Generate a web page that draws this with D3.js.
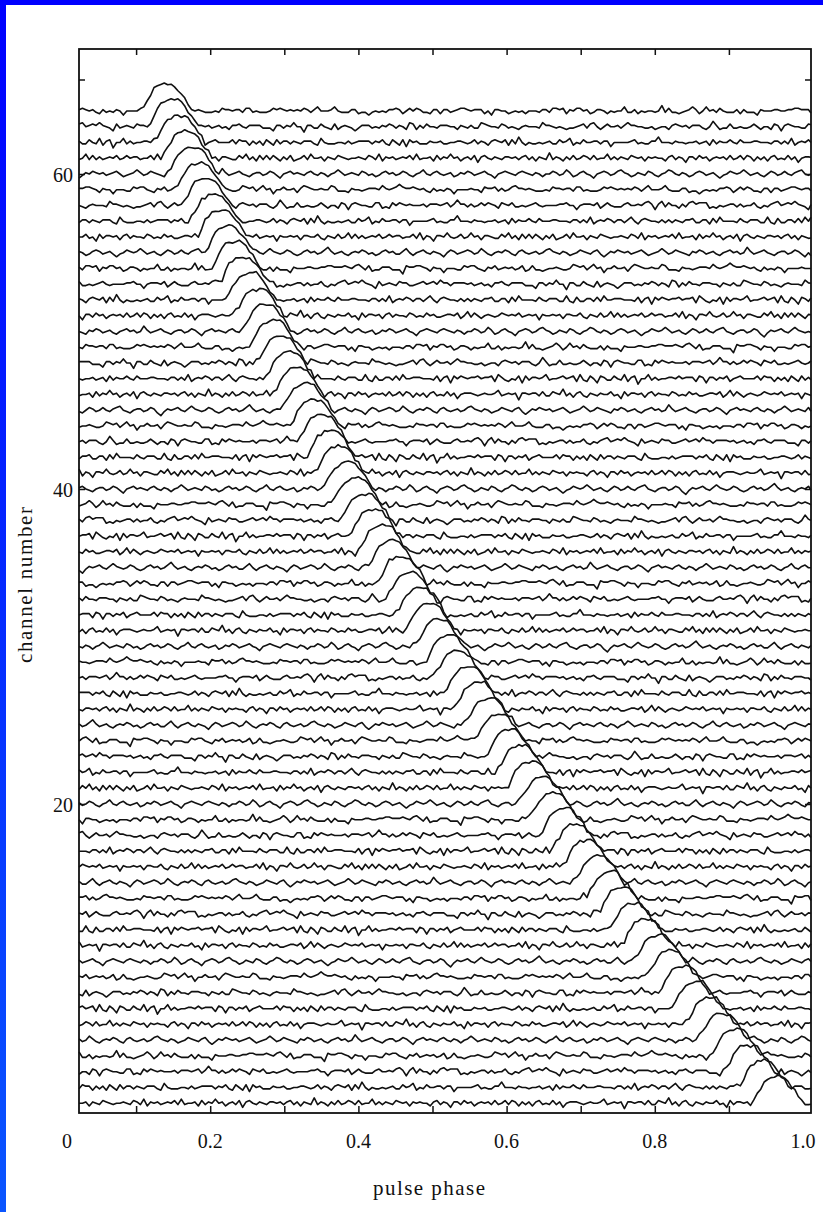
<!DOCTYPE html>
<html>
<head>
<meta charset="utf-8">
<script src="https://cdn.jsdelivr.net/npm/d3@7"></script>
<style>
body { margin: 0; background: #fff; }
svg { display: block; }
</style>
</head>
<body>
<div id="chart"></div>
<script>
// phase at which each channel's pulse is back on its baseline, channel 1 .. 64
var pulseEnd = [
	1.000, 0.981, 0.962, 0.944, 0.926, 0.909, 0.891, 0.874, 0.857, 0.840,
	0.823, 0.807, 0.791, 0.775, 0.759, 0.743, 0.728, 0.713, 0.698, 0.683,
	0.668, 0.654, 0.639, 0.625, 0.611, 0.597, 0.584, 0.570, 0.557, 0.544,
	0.531, 0.518, 0.505, 0.493, 0.480, 0.468, 0.456, 0.444, 0.432, 0.420,
	0.409, 0.397, 0.386, 0.375, 0.364, 0.353, 0.342, 0.331, 0.321, 0.310,
	0.300, 0.289, 0.279, 0.269, 0.260, 0.250, 0.240, 0.230, 0.221, 0.211,
	0.202, 0.193, 0.184, 0.175
];

// shape of the pulse, phase offset from its end and height in channel units
var profileOffset = [-0.072, -0.066, -0.061, -0.056, -0.051, -0.045, -0.038, -0.031, -0.024, -0.018, -0.012, -0.006, 0];
var profileHeight = [0, 0.15, 0.55, 1.05, 1.40, 1.60, 1.70, 1.70, 1.62, 1.25, 0.82, 0.40, 0];

// receiver noise, in pixels
var noise = [
	0,2,1,-1,0,3,1,-2,-1,1,2,0,-1,-3,0,1,2,1,-1,0,
	2,3,1,0,-2,-1,1,0,-1,2,1,-1,-2,0,1,3,2,0,-1,1,
	0,-2,-1,1,2,1,-1,0,1,-1,-3,-1,0,2,1,0,1,3,1,-1,
	0,1,-1,-2,0,2,1,-1,0,2,0,-1,1,2,3,0,-1,-2,0,1,
	1,-1,0,2,1,-2,-4,-1,1,0,1,2,0,-1,1,3,1,0,-1,0,
	2,1,-1,-2,-1,1,2,0,1,-1,0,2,4,1,-1,0,1,-1,-2,0,
	1,0,2,1,-1,0,-2,-1,1,2,0,1,-1,-1,1,3,0,-2,0,1,
	2,0,-1,1,0,-1,-3,0,2,1,-1,0,1,2,1,-1,0,3,1,-1,
	-2,0,1,0,2,1,-1,-2,1,2,0,-1,0,1,-1,0,2,3,1,0,
	-1,1,0,-2,-1,0,2,1,0,-1,1,2,-1,-3,-1,1,0,2,1,0,
	1,-1,0,1,2,0,-2,-1,0,1,3,1,-1,0,2,1,0,-1,-2,1,
	0,2,1,-1,0,1,-1,-2,0,1,2,0,1,-1,0,4,1,-1,0,1,
	2,0,-1,-2,0,1,1,-1,0,2,1,-1,-3,0,1,2,0,1,0,-1,
	1,2,0,-1,1,0,-2,0,1,3,1,-1,0,1,0,-1,2,1,-1,0,
	-2,-1,1,2,0,1,-1,0,2,1,-1,-2,0,1,3,0,-1,1,2,0,
	-1,0,1,-2,-1,1,0,2,1,-1,0,1,2,0,-1,-3,0,1,2,1,
	0,-1,1,2,1,0,-1,1,0,-2,0
];

var xLabelValues = [0, 0.2, 0.4, 0.6, 0.8, 1.0];
var xLabelText = ["0", "0.2", "0.4", "0.6", "0.8", "1.0"];
var xTickValues = [0.1, 0.2, 0.3, 0.4, 0.5, 0.6, 0.7, 0.8, 0.9];
var yLabelValues = [20, 40, 60];
var yTickValues = [20, 40, 60, 66];

var width = 823, height = 1212;
var frame = {left: 79, right: 811, top: 49, bottom: 1113};
var phaseStart = 0.023, phaseStop = 1.011, binWidth = 0.0046;

var svg = d3.select("#chart").append("svg")
	.attr("width", width)
	.attr("height", height);

// blue border of the slide
var grad = svg.append("defs").append("linearGradient")
	.attr("id", "side").attr("x1", 0).attr("y1", 0).attr("x2", 0).attr("y2", 1);
grad.append("stop").attr("offset", "0").attr("stop-color", "#0000ff");
grad.append("stop").attr("offset", "1").attr("stop-color", "#0a55ff");
svg.append("rect").attr("x", 0).attr("y", 0).attr("width", width).attr("height", 5).attr("fill", "#0000ff");
svg.append("rect").attr("x", 0).attr("y", 0).attr("width", 6).attr("height", height).attr("fill", "url(#side)");

var x = d3.scaleLinear().domain([0, 1]).range([62, 803]);
var y = d3.scaleLinear().domain([0, 64]).range([1119, 111]);
var pulse = d3.scaleLinear().domain(profileOffset).range(profileHeight).clamp(true);

// one trace per channel
var bins = d3.range(Math.floor((phaseStop - phaseStart) / binWidth) + 1);
var line = d3.line()
	.x(function(d) { return Math.min(x(d.phase), frame.right); })
	.y(function(d) { return d.y; });

var traces = pulseEnd.map(function(end, i) {
	var ch = i + 1;
	var stride = 1 + (ch % 5);
	var pts = bins.map(function(b) {
		var phase = phaseStart + b * binWidth;
		var h = pulse(phase - end);
		var n = noise[(ch * 97 + b * stride) % noise.length];
		return {phase: phase, y: y(ch + h) - n * 1.35 * (1 - 0.35 * Math.min(h, 1.6))};
	});
	pts.push({phase: phaseStop, y: y(ch) - noise[(ch * 31) % noise.length]});
	return pts;
});

svg.append("g")
	.selectAll("path")
	.data(traces)
	.enter()
	.append("path")
	.attr("d", line)
	.attr("fill", "none")
	.attr("stroke", "#111")
	.attr("stroke-width", 1.6)
	.attr("stroke-linejoin", "round");

// frame
svg.append("rect")
	.attr("x", frame.left).attr("y", frame.top)
	.attr("width", frame.right - frame.left)
	.attr("height", frame.bottom - frame.top)
	.attr("fill", "none")
	.attr("stroke", "#111")
	.attr("stroke-width", 1.8);

// inward ticks on all four sides
var bottomAxis = svg.append("g")
	.attr("transform", "translate(0," + frame.bottom + ")")
	.call(d3.axisBottom(x).tickValues(xTickValues).tickSize(-7).tickFormat(""));
var topAxis = svg.append("g")
	.attr("transform", "translate(0," + frame.top + ")")
	.call(d3.axisTop(x).tickValues(xTickValues).tickSize(-6).tickFormat(""));
var leftAxis = svg.append("g")
	.attr("transform", "translate(" + frame.left + ",0)")
	.call(d3.axisLeft(y).tickValues(yTickValues).tickSize(-6).tickFormat(""));
var rightAxis = svg.append("g")
	.attr("transform", "translate(" + frame.right + ",0)")
	.call(d3.axisRight(y).tickValues(yTickValues).tickSize(-6).tickFormat(""));
[bottomAxis, topAxis, leftAxis, rightAxis].forEach(function(a) {
	a.select(".domain").remove();
	a.selectAll("line").attr("stroke", "#111").attr("stroke-width", 1.5);
});

// labels
svg.append("g")
	.selectAll("text")
	.data(xLabelValues)
	.enter()
	.append("text")
	.attr("x", function(d) { return x(d) + (d === 0 ? 5 : 0); })
	.attr("y", 1148)
	.attr("text-anchor", "middle")
	.attr("font-family", "Liberation Serif, serif")
	.attr("font-size", "20px")
	.attr("fill", "#111")
	.text(function(d, i) { return xLabelText[i]; });

svg.append("g")
	.selectAll("text")
	.data(yLabelValues)
	.enter()
	.append("text")
	.attr("x", 73)
	.attr("y", function(d) { return y(d) + 8; })
	.attr("text-anchor", "end")
	.attr("font-family", "Liberation Serif, serif")
	.attr("font-size", "20px")
	.attr("fill", "#111")
	.text(function(d) { return d; });

svg.append("text")
	.attr("x", 429)
	.attr("y", 1195)
	.attr("text-anchor", "middle")
	.attr("font-family", "Liberation Serif, serif")
	.attr("font-size", "21px")
	.attr("textLength", 112)
	.attr("fill", "#111")
	.text("pulse phase");

svg.append("text")
	.attr("transform", "translate(32,585) rotate(-90)")
	.attr("text-anchor", "middle")
	.attr("font-family", "Liberation Serif, serif")
	.attr("font-size", "21px")
	.attr("textLength", 156)
	.attr("fill", "#111")
	.text("channel number");
</script>
</body>
</html>
